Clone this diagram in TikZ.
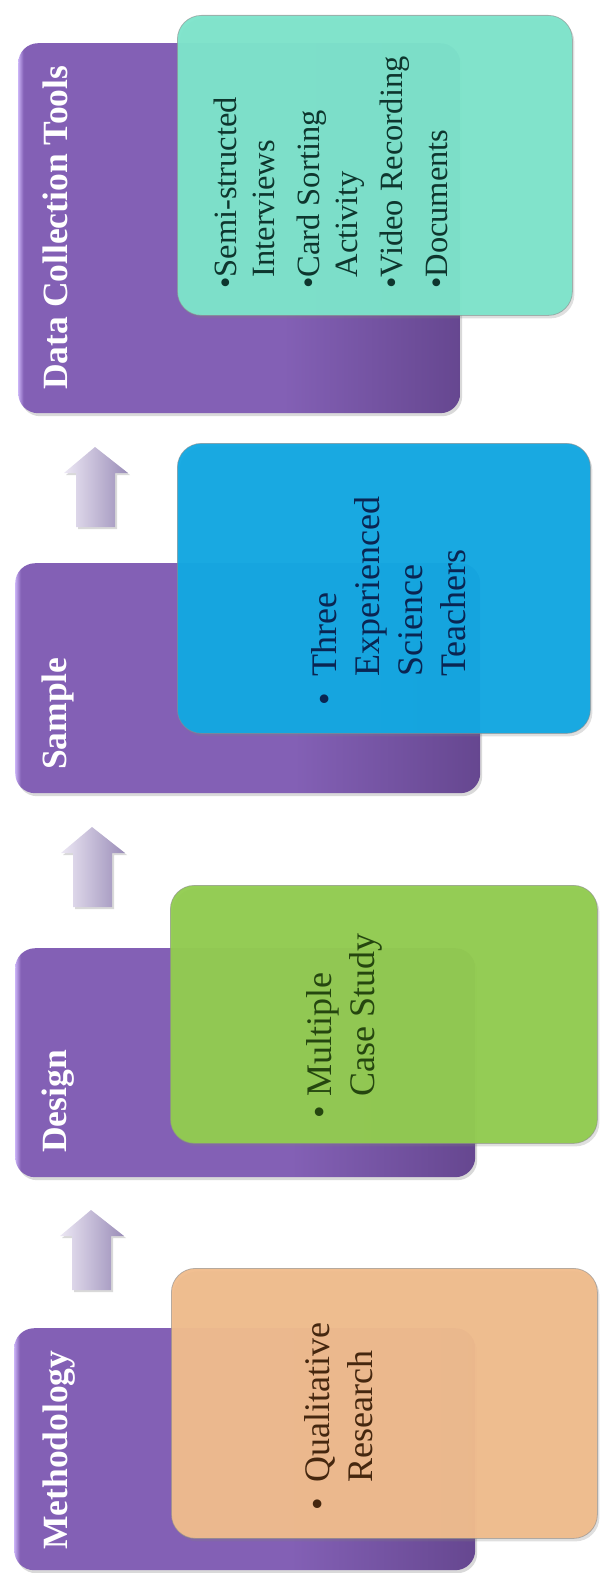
\documentclass[tikz,border=0pt]{standalone}
\usepackage{fontspec}
\setmainfont{Liberation Serif}
\usetikzlibrary{shadows}
\definecolor{pHi}{HTML}{C8B0F4}
\definecolor{pMain}{HTML}{8360B5}
\definecolor{pDark}{HTML}{664790}
\definecolor{tealBox}{HTML}{7DE4CB}
\definecolor{blueBox}{HTML}{12A8E2}
\definecolor{greenBox}{HTML}{92CC50}
\definecolor{orangeBox}{HTML}{F0BC8D}
\definecolor{arrL}{HTML}{ECE7F4}
\definecolor{arrR}{HTML}{9A8DB8}
\definecolor{dctText}{HTML}{0E362E}
\definecolor{smpText}{HTML}{0A2552}
\definecolor{desText}{HTML}{25460F}
\definecolor{metText}{HTML}{45270F}
\pgfdeclarehorizontalshading{purpleshade}{100bp}{color(0bp)=(pHi); color(25bp)=(pHi); color(25.6bp)=(pMain); color(55bp)=(pMain); color(75bp)=(pDark); color(100bp)=(pDark)}
\tikzset{
  purplebox/.style={rectangle, rounded corners=20pt, shading=purpleshade, draw=none,
    inner sep=0, anchor=north west,
    drop shadow={opacity=0.3, shadow xshift=2pt, shadow yshift=-3pt}},
  colorbox/.style={rectangle, rounded corners=24pt, fill=#1, fill opacity=0.96,
    draw=black!45, draw opacity=0.6, line width=0.8pt, inner sep=0, anchor=north west,
    drop shadow={opacity=0.25, shadow xshift=2pt, shadow yshift=-3pt}},
  labeltext/.style={rotate=90, anchor=base west, inner sep=0, text=white,
    font=\fontsize{35.5}{40}\selectfont\bfseries},
  bodytext/.style={rotate=90, anchor=base west, inner sep=0},
  arrowshape/.style={left color=arrL, right color=arrR, draw=none,
    drop shadow={opacity=0.3, shadow xshift=2pt, shadow yshift=-2pt}}
}
\begin{document}
\begin{tikzpicture}[x=1pt,y=-1pt]
\useasboundingbox (0,0) rectangle (600,1573);

% Group 1: Data Collection Tools
\node[purplebox, minimum width=442pt, minimum height=370pt] (p1) at (18,43) {};
\node[labeltext] (l1) at (67,390) {Data Collection Tools};
\node[colorbox=tealBox, minimum width=395pt, minimum height=300pt] (b1) at (177,15) {};
\node[bodytext, text=dctText, font=\fontsize{32.5}{38}\selectfont] (c1) at (236,289)
  {\begin{tabular}[t]{@{}l@{}l@{}}•&Semi-structed\\ &Interviews\\[7pt] •&Card Sorting\\ &Activity\\[7pt] •&Video Recording\\[7pt] •&Documents\end{tabular}};

% Arrow 1
\coordinate (a1) at (95,447);
\path[arrowshape] (a1) -- ++(33,26) -- ++(-13,0) -- ++(0,54) -- ++(-39,0) -- ++(0,-54) -- ++(-12,0) -- cycle;

% Group 2: Sample
\node[purplebox, minimum width=465pt, minimum height=230pt] (p2) at (15,563) {};
\node[labeltext] (l2) at (66,770) {Sample};
\node[colorbox=blueBox, minimum width=413pt, minimum height=290pt] (b2) at (177,443) {};
\node[bodytext, text=smpText, font=\fontsize{36}{43}\selectfont] (c2) at (336,706)
  {\begin{tabular}[t]{@{}l@{}l@{}}\makebox[29pt][l]{•}&Three\\ &Experienced\\ &Science\\ &Teachers\end{tabular}};

% Arrow 2
\coordinate (a2) at (92,827);
\path[arrowshape] (a2) -- ++(33,26) -- ++(-13,0) -- ++(0,54) -- ++(-39,0) -- ++(0,-54) -- ++(-12,0) -- cycle;

% Group 3: Design
\node[purplebox, minimum width=460pt, minimum height=229pt] (p3) at (15,948) {};
\node[labeltext] (l3) at (66,1153) {Design};
\node[colorbox=greenBox, minimum width=427pt, minimum height=258pt] (b3) at (170,885) {};
\node[bodytext, text=desText, font=\fontsize{36}{43}\selectfont] (c3) at (331,1119)
  {\begin{tabular}[t]{@{}l@{}l@{}}\makebox[22pt][l]{•}&Multiple\\ &Case Study\end{tabular}};

% Arrow 3
\coordinate (a3) at (91,1210);
\path[arrowshape] (a3) -- ++(33,26) -- ++(-13,0) -- ++(0,54) -- ++(-39,0) -- ++(0,-54) -- ++(-12,0) -- cycle;

% Group 4: Methodology
\node[purplebox, minimum width=461pt, minimum height=242pt] (p4) at (14,1328) {};
\node[labeltext] (l4) at (67,1550) {Methodology};
\node[colorbox=orangeBox, minimum width=426pt, minimum height=270pt] (b4) at (171,1268) {};
\node[bodytext, text=metText, font=\fontsize{36}{43}\selectfont] (c4) at (329,1511)
  {\begin{tabular}[t]{@{}l@{}l@{}}\makebox[28pt][l]{•}&Qualitative\\ &Research\end{tabular}};
\end{tikzpicture}
\end{document}
